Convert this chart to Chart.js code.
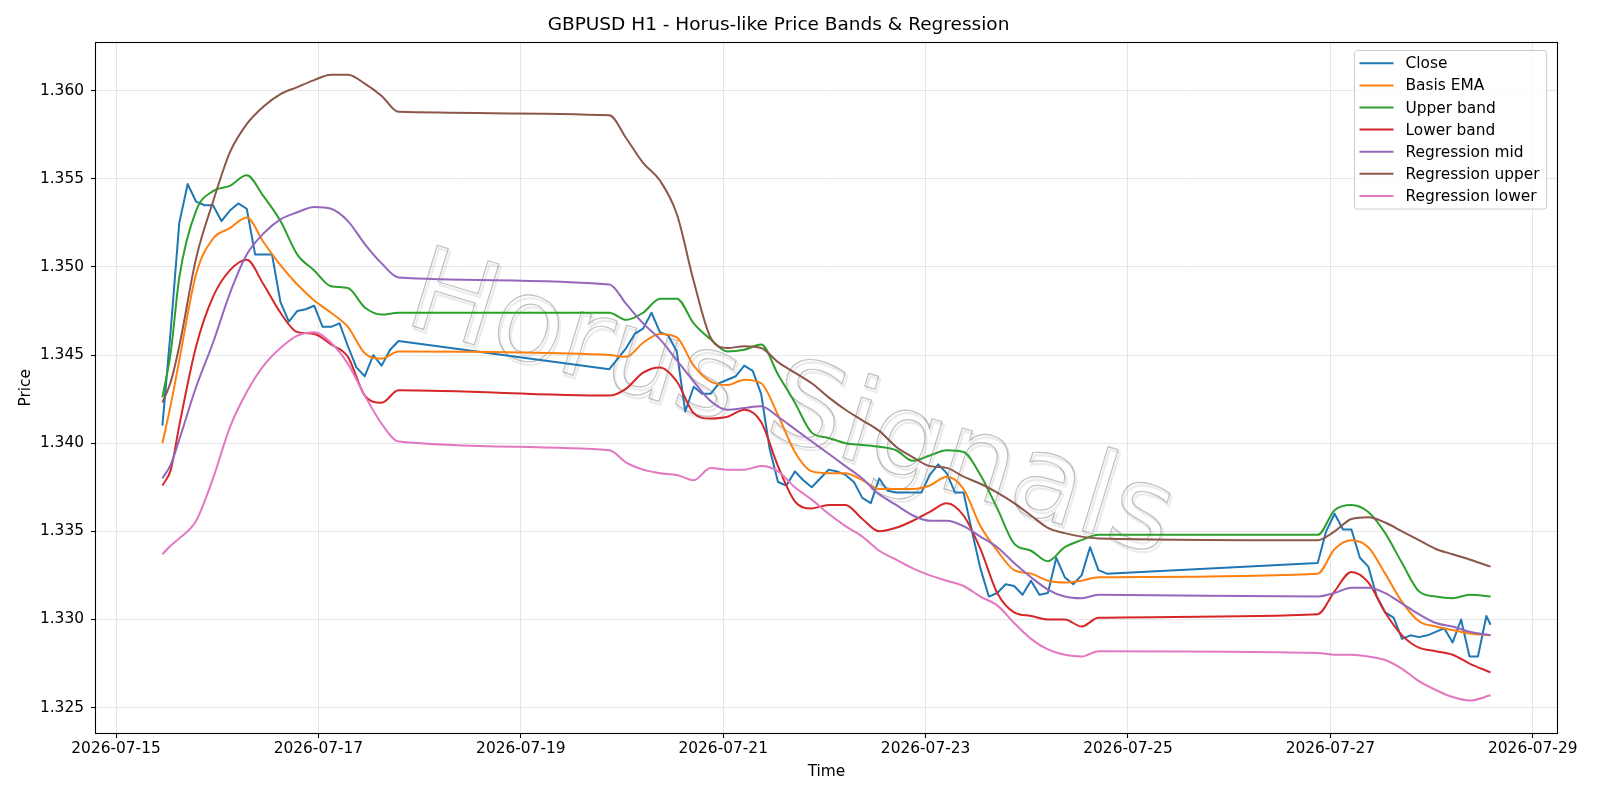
<!DOCTYPE html>
<html>
<head>
<meta charset="utf-8">
<title>GBPUSD H1 - Horus-like Price Bands & Regression</title>
<script src="https://cdn.jsdelivr.net/npm/chart.js@4.4.1/dist/chart.umd.min.js"></script>
<style>
  html, body { margin: 0; padding: 0; background: #fff; }
  #wrap { width: 1600px; height: 800px; }
</style>
</head>
<body>
<div id="wrap"><canvas id="chart" width="1600" height="800"></canvas></div>
<script>
// x values are hours since 2026-07-15 00:00 (H1 bars, weekend gaps left out)
const closeHours = [
  11, 13, 15, 17, 19, 21, 23, 25, 27, 29, 31, 33, 35, 37, 39, 41, 43, 45, 47, 49, 51, 53, 55, 57, 59, 61, 63, 65, 67,
  117, 119, 121, 123, 125, 127, 129, 131, 133, 135, 137, 139, 141, 143, 145, 147, 149, 151, 153, 155, 157,
  159, 161, 163, 165, 167, 169, 171, 173, 175, 177, 179, 181, 183, 185, 187, 189, 191, 193, 195, 197,
  199, 201, 203, 205, 207, 209, 211, 213, 215, 217, 219, 221, 223, 225, 227, 229, 231, 233, 235,
  285, 287, 289, 291, 293, 295, 297, 299, 301, 303, 305, 307, 309, 311, 313, 315, 317, 319, 321, 323, 325, 326
];
const close = [
  1.3410, 1.3465, 1.3525, 1.3547, 1.3537, 1.3535, 1.3535, 1.3526, 1.3532, 1.3536, 1.3533, 1.3507, 1.3507, 1.3507, 1.3480,
  1.3469, 1.3475, 1.3476, 1.3478, 1.3466, 1.3466, 1.3468, 1.3455, 1.3443, 1.3438, 1.3450, 1.3444, 1.3453, 1.3458,
  1.3442, 1.3448, 1.3454, 1.3462, 1.3465, 1.3474, 1.3463, 1.3461, 1.3452, 1.3418, 1.3432, 1.3428, 1.3428, 1.3434, 1.3436,
  1.3438, 1.3444, 1.3441, 1.3428, 1.3397, 1.3378, 1.3376, 1.3384, 1.3379, 1.3375, 1.3380, 1.3385, 1.3384, 1.3382, 1.3378,
  1.3369, 1.3366, 1.3380, 1.3373, 1.3372, 1.3372, 1.3372, 1.3372, 1.3382, 1.3388, 1.3383, 1.3372, 1.3372, 1.3350, 1.3329,
  1.3313, 1.3315, 1.3320, 1.3319, 1.3314, 1.3322, 1.3314, 1.3315, 1.3335, 1.3324, 1.3320, 1.3325, 1.3341, 1.3328, 1.3326,
  1.3332, 1.3350, 1.3360, 1.3351, 1.3351, 1.3335, 1.3330, 1.3313, 1.3304, 1.3301, 1.3289, 1.3291, 1.3290, 1.3291, 1.3293,
  1.3295, 1.3287, 1.3300, 1.3279, 1.3279, 1.3302, 1.3297
];

const bandHours = [
  11, 13, 15, 19, 23, 27, 31, 35, 39, 43, 47, 51, 55, 59, 63, 67,
  117, 121, 125, 129, 133, 137, 141, 145, 149, 153, 157, 161, 165, 169, 173,
  177, 181, 185, 189, 193, 197, 201, 205, 209, 213, 217, 221, 225, 229, 233,
  285, 289, 293, 297, 301, 305, 309, 313, 317, 321, 326
];
const basisEma = [
  1.3400, 1.3422, 1.3447, 1.3496, 1.3516, 1.3522, 1.3528, 1.3514, 1.3501, 1.3490, 1.3481, 1.3474, 1.3466, 1.3451, 1.3448, 1.3452,
  1.3450, 1.3449, 1.3457, 1.3462, 1.3460, 1.3444, 1.3435, 1.3433, 1.3436, 1.3434, 1.3416, 1.3395, 1.3384, 1.3383, 1.3383,
  1.3379, 1.3374, 1.3374, 1.3374, 1.3376, 1.3381, 1.3374, 1.3353, 1.3339, 1.3328, 1.3326, 1.3322, 1.3321, 1.3322, 1.3324,
  1.3326, 1.3340, 1.3345, 1.3341, 1.3326, 1.3310, 1.3299, 1.3296, 1.3294, 1.3292, 1.3291
];
const upperBand = [
  1.3426, 1.3452, 1.3494, 1.3532, 1.3543, 1.3546, 1.3552, 1.3540, 1.3526, 1.3507, 1.3498, 1.3489, 1.3488, 1.3477, 1.3473, 1.3474,
  1.3474, 1.3470, 1.3474, 1.3482, 1.3482, 1.3468, 1.3459, 1.3452, 1.3453, 1.3456, 1.3439, 1.3423, 1.3406, 1.3403, 1.3400,
  1.3399, 1.3398, 1.3396, 1.3390, 1.3393, 1.3396, 1.3395, 1.3382, 1.3363, 1.3343, 1.3339, 1.3333, 1.3341, 1.3345, 1.3348,
  1.3348, 1.3362, 1.3365, 1.3361, 1.3349, 1.3332, 1.3316, 1.3313, 1.3312, 1.3314, 1.3313
];
const lowerBand = [
  1.3376, 1.3385, 1.3410, 1.3455, 1.3483, 1.3498, 1.3504, 1.3490, 1.3474, 1.3463, 1.3462, 1.3456, 1.3449, 1.3427, 1.3423, 1.3430,
  1.3427, 1.3431, 1.3440, 1.3443, 1.3435, 1.3417, 1.3414, 1.3415, 1.3419, 1.3412, 1.3387, 1.3367, 1.3363, 1.3365, 1.3365,
  1.3357, 1.3350, 1.3352, 1.3356, 1.3361, 1.3366, 1.3359, 1.3340, 1.3315, 1.3304, 1.3302, 1.3300, 1.3300, 1.3296, 1.3301,
  1.3303, 1.3316, 1.3327, 1.3321, 1.3304, 1.3291, 1.3284, 1.3282, 1.3280, 1.3275, 1.3270
];
const regMid = [
  1.3380, 1.3388, 1.3402, 1.3432, 1.3457, 1.3485, 1.3507, 1.3519, 1.3527, 1.3531, 1.3534, 1.3533, 1.3526, 1.3513, 1.3502, 1.3494,
  1.3490, 1.3479, 1.3468, 1.3459, 1.3447, 1.3435, 1.3424, 1.3419, 1.3420, 1.3421, 1.3415, 1.3408, 1.3401, 1.3394, 1.3387,
  1.3380, 1.3371, 1.3365, 1.3359, 1.3356, 1.3356, 1.3353, 1.3347, 1.3341, 1.3332, 1.3324, 1.3317, 1.3313, 1.3312, 1.3314,
  1.3313, 1.3315, 1.3318, 1.3318, 1.3315, 1.3309, 1.3303, 1.3298, 1.3296, 1.3293, 1.3291
];
const regUpper = [
  1.3423, 1.3435, 1.3455, 1.3505, 1.3537, 1.3565, 1.3581, 1.3591, 1.3598, 1.3602, 1.3606, 1.3609, 1.3609, 1.3604, 1.3597, 1.3588,
  1.3586, 1.3573, 1.3559, 1.3549, 1.3530, 1.3492, 1.3460, 1.3454, 1.3455, 1.3454, 1.3446, 1.3440, 1.3434, 1.3426, 1.3419,
  1.3413, 1.3407, 1.3398, 1.3392, 1.3387, 1.3386, 1.3381, 1.3377, 1.3372, 1.3366, 1.3359, 1.3352, 1.3349, 1.3347, 1.3346,
  1.3345, 1.3350, 1.3357, 1.3358, 1.3355, 1.3350, 1.3345, 1.3340, 1.3337, 1.3334, 1.3330
];
const regLower = [
  1.3337, 1.3342, 1.3346, 1.3356, 1.3380, 1.3409, 1.3429, 1.3444, 1.3454, 1.3461, 1.3463, 1.3457, 1.3445, 1.3427, 1.3411, 1.3401,
  1.3396, 1.3389, 1.3385, 1.3383, 1.3382, 1.3379, 1.3386, 1.3385, 1.3385, 1.3387, 1.3384, 1.3375, 1.3368, 1.3360, 1.3353,
  1.3347, 1.3339, 1.3334, 1.3329, 1.3325, 1.3322, 1.3319, 1.3313, 1.3308, 1.3298, 1.3289, 1.3283, 1.3280, 1.3279, 1.3282,
  1.3281, 1.3280, 1.3280, 1.3279, 1.3277, 1.3272, 1.3265, 1.3260, 1.3256, 1.3254, 1.3257
];

const xTicks = [0, 48, 96, 144, 192, 240, 288, 336];
const xTickLabels = ["2026-07-15", "2026-07-17", "2026-07-19", "2026-07-21", "2026-07-23", "2026-07-25", "2026-07-27", "2026-07-29"];
const yTicks = [1.325, 1.330, 1.335, 1.340, 1.345, 1.350, 1.355, 1.360];

const FONT = "'DejaVu Sans', 'Liberation Sans', sans-serif";

function pts(hours, vals) {
  return hours.map((h, i) => ({ x: h, y: vals[i] }));
}

// watermark sits behind the lines
const watermark = {
  id: 'watermark',
  beforeDatasetsDraw(chart) {
    const ctx = chart.ctx;
    ctx.save();
    ctx.translate(790, 410);
    ctx.rotate(17 * Math.PI / 180);
    ctx.font = "116px " + FONT;
    ctx.textAlign = 'center';
    ctx.textBaseline = 'middle';
    ctx.lineWidth = 2.4;
    ctx.strokeStyle = 'rgba(150,150,150,0.18)';
    ctx.strokeText('Horus Signals', 2.5, 2.5);
    ctx.lineWidth = 1.2;
    ctx.strokeStyle = 'rgba(130,130,130,0.5)';
    ctx.strokeText('Horus Signals', 0, 0);
    ctx.restore();
  }
};

// axes frame + legend box in the upper right corner
const frameAndLegend = {
  id: 'frameAndLegend',
  afterDraw(chart) {
    const ctx = chart.ctx;
    const a = chart.chartArea;
    ctx.save();
    ctx.strokeStyle = '#000';
    ctx.lineWidth = 1.1;
    ctx.strokeRect(Math.round(a.left) - 0.5, Math.round(a.top) - 0.5,
      Math.round(a.right - a.left) + 1, Math.round(a.bottom - a.top) + 1);

    const sets = chart.data.datasets;
    ctx.font = "15.4px " + FONT;
    let maxW = 0;
    sets.forEach(d => { maxW = Math.max(maxW, ctx.measureText(d.label).width); });
    const bx = 1354.5, by = 50.5;
    const lineX0 = 1359.5, lineX1 = 1393.5, textX = 1405.5;
    const rowH = 22.1, row0 = 63.3;
    const bw = textX - bx + maxW + 7;
    const bh = 158.5;
    ctx.beginPath();
    ctx.roundRect(bx, by, bw, bh, 3);
    ctx.fillStyle = 'rgba(255,255,255,0.8)';
    ctx.fill();
    ctx.strokeStyle = '#cccccc';
    ctx.lineWidth = 1;
    ctx.stroke();
    ctx.textBaseline = 'middle';
    ctx.textAlign = 'left';
    sets.forEach((d, i) => {
      const y = row0 + i * rowH;
      ctx.beginPath();
      ctx.moveTo(lineX0, y);
      ctx.lineTo(lineX1, y);
      ctx.strokeStyle = d.borderColor;
      ctx.lineWidth = 2;
      ctx.stroke();
      ctx.fillStyle = '#000';
      ctx.fillText(d.label, textX, y + 1);
    });
    ctx.restore();
  }
};

const ctx = document.getElementById('chart').getContext('2d');

new Chart(ctx, {
  type: 'line',
  data: {
    datasets: [
      { label: 'Close', data: pts(closeHours, close), borderColor: '#1f77b4', order: 6 },
      { label: 'Basis EMA', data: pts(bandHours, basisEma), borderColor: '#ff7f0e', cubicInterpolationMode: 'monotone', order: 5 },
      { label: 'Upper band', data: pts(bandHours, upperBand), borderColor: '#2ca02c', cubicInterpolationMode: 'monotone', order: 4 },
      { label: 'Lower band', data: pts(bandHours, lowerBand), borderColor: '#d62728', cubicInterpolationMode: 'monotone', order: 3 },
      { label: 'Regression mid', data: pts(bandHours, regMid), borderColor: '#9467bd', cubicInterpolationMode: 'monotone', order: 2 },
      { label: 'Regression upper', data: pts(bandHours, regUpper), borderColor: '#8c564b', cubicInterpolationMode: 'monotone', order: 1 },
      { label: 'Regression lower', data: pts(bandHours, regLower), borderColor: '#e377c2', cubicInterpolationMode: 'monotone', order: 0 }
    ]
  },
  options: {
    responsive: false,
    animation: false,
    devicePixelRatio: 1,
    layout: { padding: { top: 0, right: 43, bottom: 0, left: 0 } },
    elements: {
      point: { radius: 0, hoverRadius: 0 },
      line: { borderWidth: 2, tension: 0, fill: false, borderJoinStyle: 'round' }
    },
    plugins: {
      legend: { display: false },
      tooltip: { enabled: false },
      title: {
        display: true,
        text: 'GBPUSD H1 - Horus-like Price Bands & Regression',
        color: '#000',
        font: { family: FONT, size: 18.5, weight: 'normal' },
        padding: { top: 14.5, bottom: 6 }
      }
    },
    scales: {
      x: {
        type: 'linear',
        min: -4.75,
        max: 341.75,
        afterBuildTicks: s => { s.ticks = xTicks.map(v => ({ value: v })); },
        afterFit: s => { s.height = 67; },
        ticks: {
          callback: v => xTickLabels[xTicks.indexOf(v)],
          color: '#000',
          font: { family: FONT, size: 15.4 },
          padding: 2,
          maxRotation: 0,
          autoSkip: false
        },
        grid: { color: '#e6e6e6', lineWidth: 1, tickColor: '#000', tickLength: 5, tickWidth: 1.1 },
        border: { display: false },
        title: {
          display: true,
          text: 'Time',
          color: '#000',
          font: { family: FONT, size: 15.4 },
          padding: { top: 0, bottom: 19 }
        }
      },
      y: {
        type: 'linear',
        min: 1.32356,
        max: 1.36272,
        afterBuildTicks: s => { s.ticks = yTicks.map(v => ({ value: v })); },
        afterFit: s => { s.width = 96; },
        ticks: {
          callback: v => v.toFixed(3),
          color: '#000',
          font: { family: FONT, size: 15.4 },
          padding: 7
        },
        grid: { color: '#e6e6e6', lineWidth: 1, tickColor: '#000', tickLength: 5, tickWidth: 1.1 },
        border: { display: false },
        title: {
          display: true,
          text: 'Price',
          color: '#000',
          font: { family: FONT, size: 15.4 },
          padding: { top: 17, bottom: 0 }
        }
      }
    }
  },
  plugins: [watermark, frameAndLegend]
});
</script>
</body>
</html>
